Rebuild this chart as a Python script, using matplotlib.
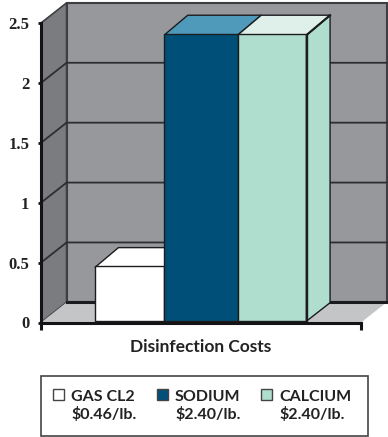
import matplotlib
matplotlib.use("Agg")
import matplotlib.pyplot as plt
import numpy as np
from matplotlib.patches import Polygon, Rectangle

W, H = 388, 437

products = ["GAS CL2", "SODIUM", "CALCIUM"]
prices = ["$0.46/lb.", "$2.40/lb.", "$2.40/lb."]
costs = [0.46, 2.40, 2.40]
y_ticks = [0, 0.5, 1, 1.5, 2, 2.5]
y_labels = ["0", "0.5", "1", "1.5", "2", "2.5"]
x_label = "Disinfection Costs"

bar_edges = np.array([0.506, 1.156, 1.845, 2.49])
front = ["#ffffff", "#004f78", "#afddce"]
top = ["#ffffff", "#4f9abb", "#dff0ea"]
side = ["#ffffff", "#004f78", "#afddce"]
EDGE = "#1c1c1e"
DX, DY = 0.24, 0.168          # depth of the 3D box, data units
BAR_DX, BAR_DY = 0.22, 0.165

plt.rcParams["font.family"] = ["Lato", "DejaVu Sans"]
plt.rcParams["font.weight"] = "bold"

fig = plt.figure(figsize=(W / 100, H / 100), dpi=100, facecolor="white")
ax = fig.add_axes([41 / W, 1 - 322.5 / H, 320 / W, 299.5 / H])
ax.set_xlim(0, 3)
ax.set_ylim(0, 2.5)
ax.patch.set_visible(False)


def poly(pts, fc, lw=1.0, ec=EDGE, z=1):
    ax.add_patch(Polygon(pts, closed=True, fc=fc, ec=ec, lw=lw, clip_on=False,
                         zorder=z, joinstyle="miter"))


ymax = y_ticks[-1]
poly([(DX, DY), (3 + DX, DY), (3 + DX, ymax + DY), (DX, ymax + DY)], "#97989c", lw=1.5, ec="#3e3e42")
poly([(0, 0), (DX, DY), (DX, ymax + DY), (0, ymax)], "#7b7c80", lw=1.2, ec="#3e3e42")
poly([(0, 0), (3, 0), (3 + DX, DY), (DX, DY)], "#c4c5c7", lw=1.0, ec="none")
ax.plot([DX, 3 + DX], [DY, DY], color=EDGE, lw=2.2, clip_on=False, zorder=1.5)

for v in y_ticks[1:-1]:
    ax.plot([0, DX, 3 + DX], [v, v + DY, v + DY], color="#2e2e32", lw=1.3,
            clip_on=False, zorder=1.5)

ax.bar(bar_edges[:-1], costs, width=np.diff(bar_edges), bottom=0.012, align="edge",
       color=front, edgecolor=EDGE, linewidth=1.0, zorder=3)
for i, v in enumerate(costs):
    x0, x1 = bar_edges[i], bar_edges[i + 1]
    poly([(x0, v), (x1, v), (x1 + BAR_DX, v + BAR_DY), (x0 + BAR_DX, v + BAR_DY)], top[i], z=2.5)
    poly([(x1, 0.012), (x1 + BAR_DX, BAR_DY), (x1 + BAR_DX, v + BAR_DY), (x1, v)], side[i], z=2.4)
x0, x1, v = bar_edges[2], bar_edges[3], costs[2]
ax.plot([x1, x1, x1 + BAR_DX], [0.012, v, v + BAR_DY], color=EDGE, lw=1.5, zorder=4, clip_on=False)

for s in ["top", "right"]:
    ax.spines[s].set_visible(False)
for s in ["left", "bottom"]:
    ax.spines[s].set_linewidth(2.2)
    ax.spines[s].set_color("#141416")
    ax.spines[s].set_zorder(5)
ax.set_yticks(y_ticks)
ax.set_yticklabels(y_labels, fontsize=12, family=["Liberation Serif"], fontweight="bold", color="#222222")
ax.tick_params(axis="y", length=2.5, width=2, pad=6, color="#141416")
ax.set_xticks([0, 3])
ax.set_xticklabels(["", ""])
ax.tick_params(axis="x", length=5, width=2.2, color="#141416", pad=0, labelsize=1)
ax.set_xlabel(x_label, fontsize=12.5, fontweight="bold", color="#222222", labelpad=7)

leg = fig.add_axes([0, 0, 1, 1])
leg.set_xlim(0, W)
leg.set_ylim(H, 0)
leg.axis("off")
leg.add_patch(Rectangle((41, 376), 327, 60, fc="white", ec="#444444", lw=1.2))
for i, (name, price) in enumerate(zip(products, prices)):
    x = 53 + 104 * i
    leg.add_patch(Rectangle((x, 389), 10.5, 11, fc=front[i], ec="#444444", lw=1.0))
    leg.text(x + 18, 401, name, fontsize=11.5, fontweight="bold", color="#222222", va="baseline")
    leg.text(x + 18, 419, price.replace("$", r"\$"), fontsize=11.5, fontweight="bold",
             color="#222222", va="baseline")

fig.savefig("out.png", dpi=100)
plt.close(fig)
